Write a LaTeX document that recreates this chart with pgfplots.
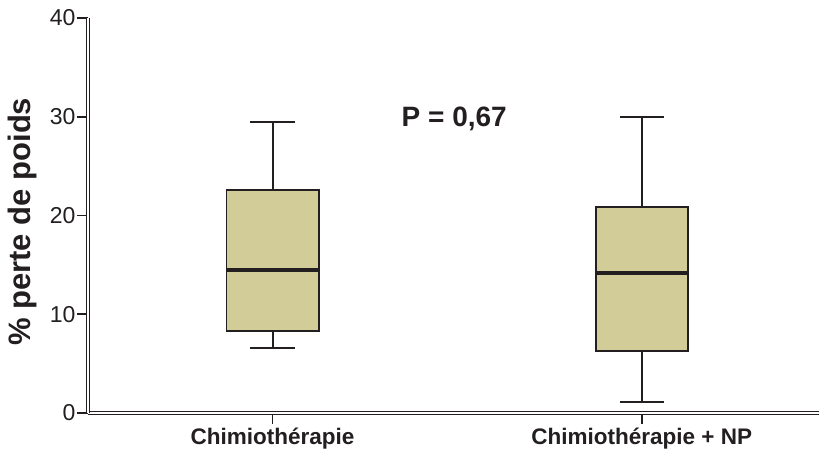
\documentclass[border=0pt]{standalone}
\usepackage{pgfplots}
\pgfplotsset{compat=1.18}
\usepgfplotslibrary{statistics}
\usepackage{fontspec}
\setmainfont{Liberation Sans}
\definecolor{dark}{HTML}{231F20}
\definecolor{boxfill}{RGB}{210,205,152}
\begin{document}
\begin{tikzpicture}
\begin{axis}[
  scale only axis,
  width=731pt, height=395pt,
  xmin=0.5, xmax=2.48, ymin=0, ymax=40,
  axis x line*=bottom, axis y line*=left,
  axis line style={draw=dark, line width=1.3pt, double=white, double distance=1.5pt},
  xtick={1,2},
  xticklabels={Chimiothérapie, Chimiothérapie + NP},
  ytick={0,10,20,30,40},
  yticklabels={0,10,20,30,40},
  tick align=outside,
  major tick length=11pt,
  tick style={draw=dark, line width=1.6pt},
  yticklabel style={font=\fontsize{23}{25}\selectfont, text=dark, xshift=2pt},
  xticklabel style={font=\bfseries\fontsize{22.5}{24}\selectfont, text=dark},
  ylabel={\% perte de poids},
  every axis y label/.style={at={(axis description cs:-0.089,0.484)}, rotate=90, anchor=center, font=\bfseries\fontsize{31}{33}\selectfont, text=dark},
  clip=false,
  boxplot/draw direction=y,
  boxplot/box extend=0.25,
  boxplot/whisker extend=0.12,
  boxplot/every box/.style={fill=boxfill, draw=dark, line width=1.8pt},
  boxplot/every whisker/.style={draw=dark, line width=2pt},
  boxplot/every median/.style={draw=dark, line width=3.8pt},
]
\addplot+[mark=none, draw=dark,
  boxplot prepared={draw direction=y, draw position=1, median=14.48, upper quartile=22.58, lower quartile=8.30, upper whisker=29.47, lower whisker=6.58}] coordinates {};
\addplot+[mark=none, draw=dark,
  boxplot prepared={draw direction=y, draw position=2, median=14.18, upper quartile=20.86, lower quartile=6.28, upper whisker=29.97, lower whisker=1.11}] coordinates {};
\node[anchor=base, font=\bfseries\fontsize{28}{30}\selectfont, text=dark] at (axis cs:1.492,29.06) {P = 0,67};
\end{axis}
\pgfresetboundingbox
\path[use as bounding box] (-88pt,-44pt) rectangle (731pt,413pt);
\end{tikzpicture}
\end{document}
